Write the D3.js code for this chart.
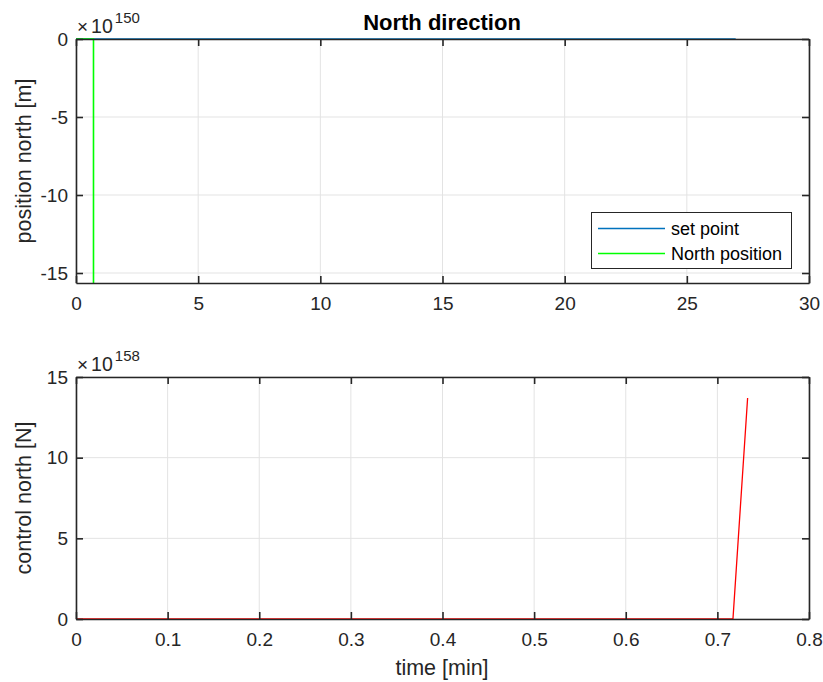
<!DOCTYPE html>
<html><head><meta charset="utf-8">
<script src="https://cdn.jsdelivr.net/npm/d3@7"></script>
<style>body{margin:0;background:#fff;} svg{display:block;font-family:"Liberation Sans",Arial,sans-serif;}</style>
</head><body>
<svg id="c" width="823" height="682"></svg>
<script>
// ---- data ----
const topXTicks = [0,5,10,15,20,25,30];
const topYTicks = [-15,-10,-5,0];
const botXTicks = [0,0.1,0.2,0.3,0.4,0.5,0.6,0.7,0.8];
const botYTicks = [0,5,10,15];
const setPointT = [0, 27];
const setPointV = [0, 0];          // x 1e150
const northPosT = [0, 0.716, 0.733];
const northPosV = [0, 0, -1e8];    // x 1e150 (diverges far below)
const controlT = [0, 0.717, 0.733];
const controlV = [0, 0, 13.7];     // x 1e158
const topExp = "150", botExp = "158";

const svg = d3.select("#c");
const axisCol = "#262626", gridCol = "#e3e3e3";
const tickFont = "19px", labFont = "21.5px";

function panel(o){
  const g = svg.append("g");
  const x = d3.scaleLinear().domain(o.xd).range([o.l, o.r]);
  const y = d3.scaleLinear().domain(o.yd).range([o.b, o.t]);
  const cid = "clip"+o.id;
  svg.append("clipPath").attr("id",cid).append("rect")
    .attr("x",o.l).attr("y",o.t-1).attr("width",o.r-o.l).attr("height",o.b-o.t+2);
  // grid
  g.selectAll(".gx").data(o.xt).enter().append("line")
    .attr("x1",d=>x(d)).attr("x2",d=>x(d)).attr("y1",o.t).attr("y2",o.b)
    .attr("stroke",gridCol).attr("stroke-width",1);
  g.selectAll(".gy").data(o.yt).enter().append("line")
    .attr("y1",d=>y(d)).attr("y2",d=>y(d)).attr("x1",o.l).attr("x2",o.r)
    .attr("stroke",gridCol).attr("stroke-width",1);
  // series
  const lg = g.append("g").attr("clip-path",`url(#${cid})`);
  o.series.forEach(s=>{
    const pts = s.t.map((t,i)=>[t,s.v[i]]);
    lg.append("path").datum(pts)
      .attr("d",d3.line().x(d=>x(d[0])).y(d=>y(d[1])))
      .attr("fill","none").attr("stroke",s.c).attr("stroke-width",s.w||1.3);
  });
  // axes
  const tl = 7;
  const ax = (gen, tr)=>{
    const a = g.append("g").attr("transform",tr).call(gen);
    a.select(".domain").attr("stroke",axisCol).attr("stroke-width",1.6);
    a.selectAll(".tick line").attr("stroke",axisCol).attr("stroke-width",1.6);
    a.selectAll("text").attr("fill",axisCol).style("font-size",tickFont);
    return a;
  };
  ax(d3.axisBottom(x).tickValues(o.xt).tickSize(-tl).tickSizeOuter(0).tickPadding(13.5).tickFormat(d=>String(d)), `translate(0,${o.b})`);
  ax(d3.axisTop(x).tickValues(o.xt).tickSize(-tl).tickSizeOuter(0).tickFormat(""), `translate(0,${o.t})`);
  ax(d3.axisLeft(y).tickValues(o.yt).tickSize(-tl).tickSizeOuter(0).tickPadding(8).tickFormat(d=>String(d)), `translate(${o.l},0)`);
  ax(d3.axisRight(y).tickValues(o.yt).tickSize(-tl).tickSizeOuter(0).tickFormat(""), `translate(${o.r},0)`);
  // exponent
  const e = g.append("text").attr("x",o.l+1).attr("y",o.t-6).attr("fill",axisCol);
  e.append("tspan").text("\u00d7").style("font-size","19px");
  e.append("tspan").text("10").style("font-size","19.5px").attr("dx",3);
  e.append("tspan").text(o.exp).style("font-size","15px").attr("dy",-10).attr("dx",2);
  // y label
  g.append("text").attr("transform",`translate(31,${(o.t+o.b)/2}) rotate(-90)`)
    .attr("text-anchor","middle").attr("fill",axisCol).style("font-size",labFont).text(o.ylab);
  return {x,y,g};
}

panel({id:1,l:76,r:809,t:39,b:283,xd:[0,30],yd:[-15.64,0],xt:topXTicks,yt:topYTicks,exp:topExp,
  ylab:"position north [m]",
  series:[{t:setPointT,v:setPointV,c:"#0072BD"},{t:northPosT,v:northPosV,c:"#00FF00",w:1.6}]});
panel({id:2,l:76,r:809,t:377,b:619,xd:[0,0.8],yd:[0,15],xt:botXTicks,yt:botYTicks,exp:botExp,
  ylab:"control north [N]",
  series:[{t:controlT,v:controlV,c:"#FF0000"}]});

// title
svg.append("text").attr("x",442).attr("y",30).attr("text-anchor","middle").attr("fill","#000")
  .style("font-size","22px").style("font-weight","bold").text("North direction");
// x label
svg.append("text").attr("x",442).attr("y",675).attr("text-anchor","middle").attr("fill",axisCol)
  .style("font-size",labFont).text("time [min]");

// legend
const leg = svg.append("g");
leg.append("rect").attr("x",591.5).attr("y",212.5).attr("width",200).attr("height",56)
  .attr("fill","#fff").attr("stroke","#262626").attr("stroke-width",1);
const legItems = [{n:"set point",c:"#0072BD"},{n:"North position",c:"#00FF00"}];
legItems.forEach((it,i)=>{
  const yy = 228.5 + i*25;
  leg.append("line").attr("x1",598).attr("x2",665).attr("y1",yy).attr("y2",yy).attr("stroke",it.c).attr("stroke-width",1.5);
  leg.append("text").attr("x",671).attr("y",yy+6).attr("fill","#000").style("font-size","18px").text(it.n);
});
</script>
</body></html>
